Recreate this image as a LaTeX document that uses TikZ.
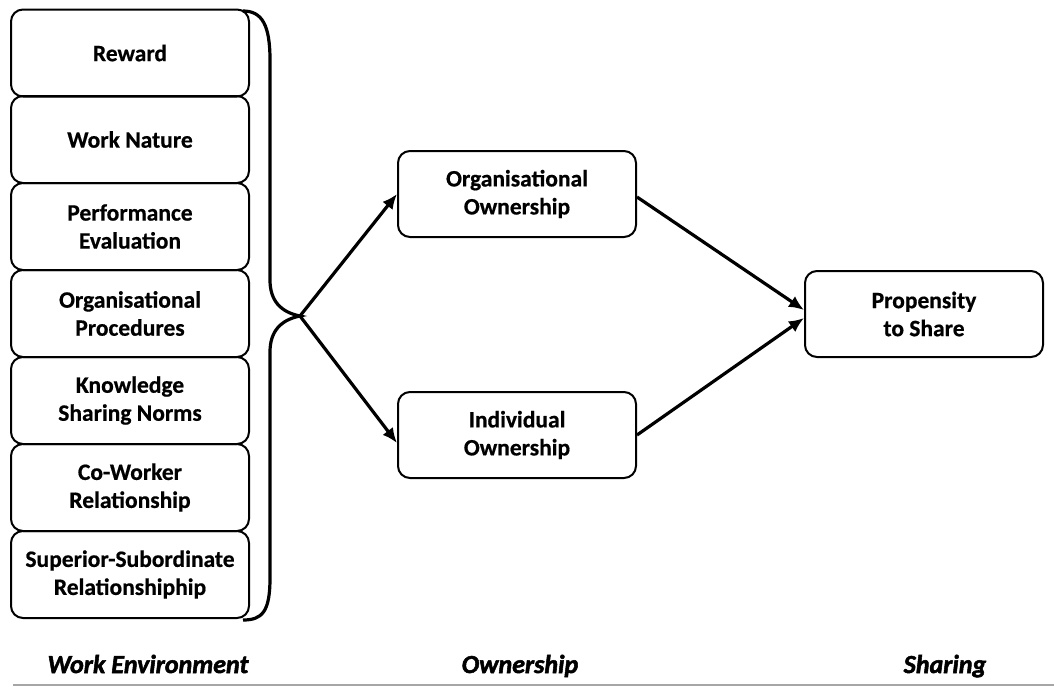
\documentclass[tikz,border=0pt]{standalone}
\usepackage{fontspec}
\setmainfont{Carlito}[BoldFeatures={FakeBold=0.6}]
\newfontfamily\capfont{Carlito}[BoldItalicFeatures={FakeBold=2}]
\usetikzlibrary{arrows.meta}
\begin{document}
\begin{tikzpicture}[x=1pt,y=-1pt,
  box/.style={draw=black, line width=2pt, rounded corners=12pt, minimum width=238pt, minimum height=87pt, align=center, inner sep=2pt, font=\fontsize{23.5}{28}\selectfont\bfseries},
  conn/.style={line width=3.2pt, -{Latex[length=15pt,width=13pt]}},
  brace/.style={line width=3.2pt},
  steplabel/.style={font=\capfont\fontsize{26}{30}\selectfont\bfseries\itshape, anchor=base}]
\useasboundingbox (0,0) rectangle (1054,686);
\fill[white] (0,0) rectangle (1054,686);
% left boxes
\node[box] (rew) at (130,53) {Reward};
\node[box] (wn) at (130,139.5) {Work Nature};
\node[box] (pe) at (130,226.5) {Performance\\Evaluation};
\node[box] (op) at (130,313.5) {Organisational\\Procedures};
\node[box] (ksn) at (130,400.5) {Knowledge\\Sharing Norms};
\node[box] (cw) at (130,487.5) {Co-Worker\\Relationship};
\node[box] (ss) at (130,574.5) {Superior-Subordinate\\Relationshiphip};
% middle and right
\node[box, minimum height=86pt] (oo) at (517,194) {Organisational\\Ownership};
\node[box, minimum height=86pt] (io) at (517,435) {Individual\\Ownership};
\node[box, minimum height=86pt] (ps) at (924,314) {Propensity\\to Share};
% brace
\coordinate (btop) at (243,11);
\coordinate (tip) at (300,316);
\coordinate (bbot) at (243,620);
\draw[brace] (btop) .. controls (262,11) and (270,25) .. (270,60) -- (270,280)
  .. controls (270,300) and (280,312) .. (tip)
  .. controls (280,320) and (270,332) .. (270,352) -- (270,578)
  .. controls (270,612) and (262,620) .. (bbot);
% arrows
\draw[conn] (tip) -- (oo.west);
\draw[conn] (tip) -- ([yshift=-8pt]io.west);
\draw[conn] ([yshift=-3pt]oo.east) -- ([yshift=4pt]ps.west);
\draw[conn] (io.east) -- ([yshift=-4pt]ps.west);
% captions
\node[steplabel] (cwe) at (148,673) {Work Environment};
\node[steplabel] (cown) at (520,673) {Ownership};
\node[steplabel] (csh) at (945,673) {Sharing};
\coordinate (la) at (13,685);
\coordinate (lb) at (1054,685);
\draw[gray!70, line width=1.2pt] (la) -- (lb);
\end{tikzpicture}
\end{document}
